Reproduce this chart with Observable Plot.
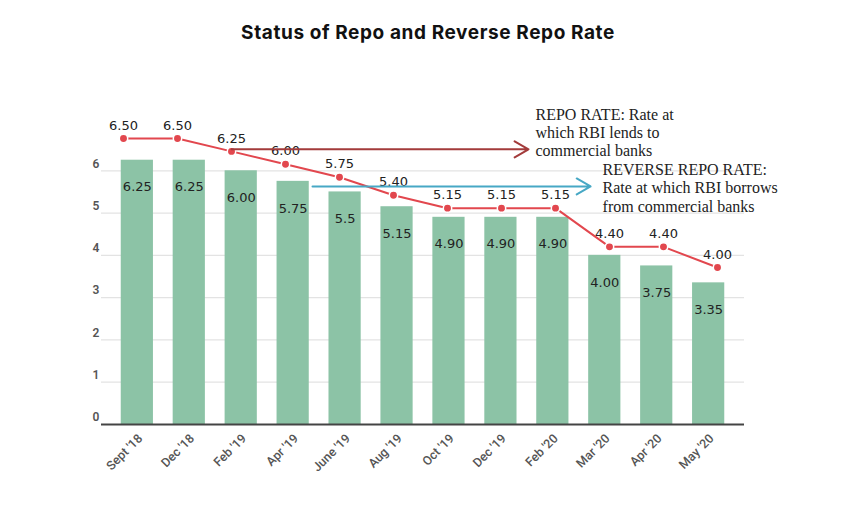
<!DOCTYPE html>
<html>
<head>
<meta charset="utf-8">
<script src="https://cdn.jsdelivr.net/npm/d3@7"></script>
<script src="https://cdn.jsdelivr.net/npm/@observablehq/plot@0.6"></script>
<style>
  html, body { margin: 0; padding: 0; background: #fff; }
  #wrap { width: 850px; height: 510px; position: relative; overflow: hidden; }
  #title { height: 60px; line-height: 66px; text-align: center; font-family: Inter, "Open Sans", sans-serif; font-weight: 700; font-size: 19px; letter-spacing: 0.6px; color: #111; padding-left: 6px; box-sizing: border-box; }
  #chart { position: relative; width: 850px; height: 450px; }
  #chart svg { position: absolute; left: 0; top: 0; background: transparent; }
</style>
</head>
<body>
<div id="wrap">
  <div id="title">Status of Repo and Reverse Repo Rate</div>
  <div id="chart"></div>
</div>
<script>
// ---- data ----
const months = ["Sept '18", "Dec '18", "Feb '19", "Apr '19", "June '19", "Aug '19", "Oct '19", "Dec '19", "Feb '20", "Mar '20", "Apr '20", "May '20"];
const reverseRepo = [6.25, 6.25, 6.00, 5.75, 5.5, 5.15, 4.90, 4.90, 4.90, 4.00, 3.75, 3.35];
const reverseLabels = ["6.25", "6.25", "6.00", "5.75", "5.5", "5.15", "4.90", "4.90", "4.90", "4.00", "3.75", "3.35"];
const repo = [6.50, 6.50, 6.25, 6.00, 5.75, 5.40, 5.15, 5.15, 5.15, 4.40, 4.40, 4.00];
const repoLabels = ["6.50", "6.50", "6.25", "6.00", "5.75", "5.40", "5.15", "5.15", "5.15", "4.40", "4.40", "4.00"];
const yTicks = [0, 1, 2, 3, 4, 5, 6];

// annotations (in overlay data units: month index, rate)
const repoNote = "REPO RATE: Rate at\nwhich RBI lends to\ncommercial banks";
const reverseNote = "REVERSE REPO RATE:\nRate at which RBI borrows\nfrom commercial banks";
const repoArrow = {from: 2, to: 7.5, rate: 6.29};
const reverseArrow = {from: 3.5, to: 8.65, rate: 5.57};

const rows = months.map((m, i) => ({
  i, month: m,
  reverse: reverseRepo[i], reverseLabel: reverseLabels[i],
  repo: repo[i], repoLabel: repoLabels[i]
}));

const W = 850, H = 450;

// ---- main bar chart (reverse repo rate) ----
const bars = Plot.plot({
  width: W, height: H,
  marginLeft: 101, marginRight: 106, marginTop: 68, marginBottom: 86,
  x: {type: "band", domain: months, padding: 0.38, round: false, label: null},
  y: {domain: [0, 7], label: null},
  style: {fontFamily: "Roboto, sans-serif", background: "transparent"},
  marks: [
    Plot.gridY(yTicks, {stroke: "#e3e3e3", strokeOpacity: 1, strokeWidth: 1.2}),
    Plot.barY(rows, {x: "month", y: "reverse", fill: "#8cc3a6"}),
    Plot.text(rows, {x: "month", y: "reverse", text: "reverseLabel", dy: 27,
      fontFamily: "DejaVu Sans, sans-serif", fontSize: 13, fill: "#222"}),
    Plot.ruleY([0], {stroke: "#444", strokeWidth: 2}),
    Plot.axisY(yTicks, {tickSize: 0, textAnchor: "start", dy: -7, fontSize: 12,
      fontWeight: 600, fill: "#555", label: null}),
    Plot.axisX({tickSize: 0, tickRotate: -45, fontSize: 12.5, fontWeight: 500,
      fill: "#555", dx: 3, dy: 0, label: null})
  ]
});

// ---- overlay line (repo rate) with its own scales ----
const overlay = Plot.plot({
  width: W, height: H,
  marginLeft: 123, marginRight: 133, marginTop: 78, marginBottom: 243,
  x: {type: "linear", domain: [0, 11], axis: null},
  y: {domain: [4, 6.5], axis: null},
  style: {background: "transparent"},
  marks: [
    Plot.line(rows, {x: "i", y: "repo", stroke: "#e2474e", strokeWidth: 2}),
    Plot.dot(rows, {x: "i", y: "repo", r: 4.2, fill: "#e2474e", stroke: "#fff", strokeWidth: 1.5}),
    Plot.text(rows, {x: "i", y: "repo", text: "repoLabel", dy: -13,
      fontFamily: "DejaVu Sans, sans-serif", fontSize: 13, fill: "#222"}),
    Plot.arrow([repoArrow], {x1: "from", x2: "to", y1: "rate", y2: "rate",
      stroke: "#a33b3b", strokeWidth: 2, headLength: 12}),
    Plot.arrow([reverseArrow], {x1: "from", x2: "to", y1: "rate", y2: "rate",
      stroke: "#47a8c5", strokeWidth: 2, headLength: 12}),
    Plot.text([repoArrow], {x: "to", y: "rate", text: () => repoNote, textAnchor: "start",
      lineAnchor: "middle", dx: 7, dy: -17, lineHeight: 1.1,
      fontFamily: "Liberation Serif, serif", fontSize: 16, fill: "#222"}),
    Plot.text([reverseArrow], {x: "to", y: "rate", text: () => reverseNote, textAnchor: "start",
      lineAnchor: "middle", dx: 12, dy: 1, lineHeight: 1.15,
      fontFamily: "Liberation Serif, serif", fontSize: 16, fill: "#222"})
  ]
});

const chart = document.getElementById("chart");
chart.appendChild(bars);
chart.appendChild(overlay);
</script>
</body>
</html>
